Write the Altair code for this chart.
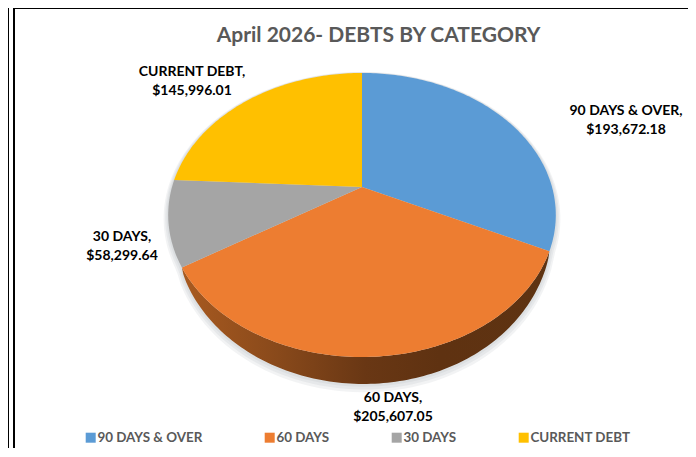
import math
import altair as alt

categories = ["90 DAYS & OVER", "60 DAYS", "30 DAYS", "CURRENT DEBT"]
values = [193672.18, 205607.05, 58299.64, 145996.01]
colors = ["#5B9BD5", "#ED7D31", "#A5A5A5", "#FFC000"]
title_text = "April 2026- DEBTS BY CATEGORY"

# Perspective view of the tilted disc (view pixels = page pixels minus 8)
CX, CY, RX, RY, TILT, DEPTH = 354.0, 179.0, 190.0, 136.5, 0.197, 27.0


def rim(theta, grow=0.0):
    """Point on the disc rim, theta in degrees clockwise from the top."""
    a = math.radians(theta)
    x, y = math.sin(a), math.cos(a)
    d = 1 + TILT * y
    return [CX + (RX + grow) * x / d, CY - (RY + grow) * y / d]


def angles(start, stop, step=1.0):
    n = max(2, int(abs(stop - start) / step) + 1)
    return [start + (stop - start) * i / (n - 1) for i in range(n)]


def feature(ring, category=None):
    ring = ring + [ring[0]]
    return {
        "type": "Feature",
        "properties": {"category": category},
        "geometry": {"type": "Polygon", "coordinates": [ring]},
    }


total = sum(values)
edges = [0.0]
for v in values:
    edges.append(edges[-1] + 360.0 * v / total)

slices = []
for i, cat in enumerate(categories):
    ring = [[CX, CY]] + [rim(t) for t in angles(edges[i], edges[i + 1])]
    slices.append(feature(ring, cat))

# Visible side wall belongs to the 60 DAYS slice only
w0, w1 = edges[1], edges[2]


def drop(t, extra=0.0):
    s = max(0.0, math.sin(math.pi * (t - w0) / (w1 - w0)))
    return DEPTH * s ** 0.5 + extra


wall_top = [rim(t) for t in angles(w0, w1)]
wall_low = [[p[0], p[1] + drop(t)] for t, p in zip(angles(w0, w1), wall_top)]
wall = feature(wall_top + wall_low[::-1])

# Soft shadow under the pie
shadows = []
for grow in (1.5, 3.0, 4.5):
    ring = []
    for t in angles(0, 360, 2):
        p = rim(t, grow)
        k = drop(t, 0.0) if w0 <= t <= w1 else 0.0
        ring.append([p[0], p[1] + k + grow * 0.6])
    shadows.append(feature(ring))

projection = dict(type="identity", scale=1, translate=[0, 0])

shadow_layer = alt.Chart(alt.Data(values=shadows)).mark_geoshape(
    fill="#9aa3ab", fillOpacity=0.13, strokeWidth=0
).project(**projection)

wall_layer = alt.Chart(alt.Data(values=[wall])).mark_geoshape(
    strokeWidth=0,
    fill=alt.LinearGradient(
        gradient="linear", x1=0, y1=0, x2=1, y2=0,
        stops=[
            alt.GradientStop(offset=0.0, color="#a85a20"),
            alt.GradientStop(offset=0.25, color="#8a4a1b"),
            alt.GradientStop(offset=0.5, color="#693714"),
            alt.GradientStop(offset=0.7, color="#5f3211"),
            alt.GradientStop(offset=1.0, color="#5e3312"),
        ],
    ),
).project(**projection)

pie_layer = alt.Chart(alt.Data(values=slices)).mark_geoshape(
    strokeWidth=0
).encode(
    color=alt.Color(
        "properties.category:N",
        scale=alt.Scale(domain=categories, range=colors),
        sort=categories,
        legend=alt.Legend(
            title=None,
            orient="none",
            legendX=76,
            legendY=423,
            direction="horizontal",
            columns=4,
            columnPadding=60,
            gridAlign="none",
            symbolType="square",
            symbolSize=100,
            symbolStrokeWidth=0,
            labelOffset=0,
            labelFont="Lato",
            labelFontWeight="bold",
            labelFontSize=13.4,
            labelColor="#595959",
            labelLimit=200,
            padding=0,
        ),
    )
).project(**projection)


def data_label(i, x, y):
    row = {"lines": [categories[i] + ",", f"${values[i]:,.2f}"]}
    return alt.Chart(alt.Data(values=[row])).mark_text(
        font="Lato", fontWeight="bold", fontSize=14, color="#000000",
        align="center", baseline="middle", lineHeight=19,
    ).encode(text="lines:N", x=alt.value(x), y=alt.value(y))


labels = [
    data_label(0, 618, 103),
    data_label(1, 385, 390),
    data_label(2, 114, 229),
    data_label(3, 184, 63.5),
]

title_layer = alt.Chart(alt.Data(values=[{"t": title_text}])).mark_text(
    font="Lato", fontWeight="bold", fontSize=21, color="#595959",
    align="center", baseline="middle",
).encode(text="t:N", x=alt.value(370.5), y=alt.value(27.5))


def vline(x, y0=0, y1=441):
    return alt.Chart(alt.Data(values=[{"k": 0}])).mark_rule(
        color="#000000", strokeWidth=2
    ).encode(x=alt.value(x), y=alt.value(y0), y2=alt.value(y1))


frame = [
    vline(0),
    vline(6),
    alt.Chart(alt.Data(values=[{"k": 0}])).mark_rule(
        color="#000000", strokeWidth=2
    ).encode(x=alt.value(6), x2=alt.value(688), y=alt.value(0)),
]

chart = alt.layer(
    *frame, shadow_layer, wall_layer, pie_layer, title_layer, *labels
).properties(
    width=680,
    height=440,
    padding=0,
    autosize=alt.AutoSizeParams(type="none"),
    background="#ffffff",
).configure_view(stroke=None)

chart.save("out.html", embed_options={"renderer": "svg", "actions": False})
